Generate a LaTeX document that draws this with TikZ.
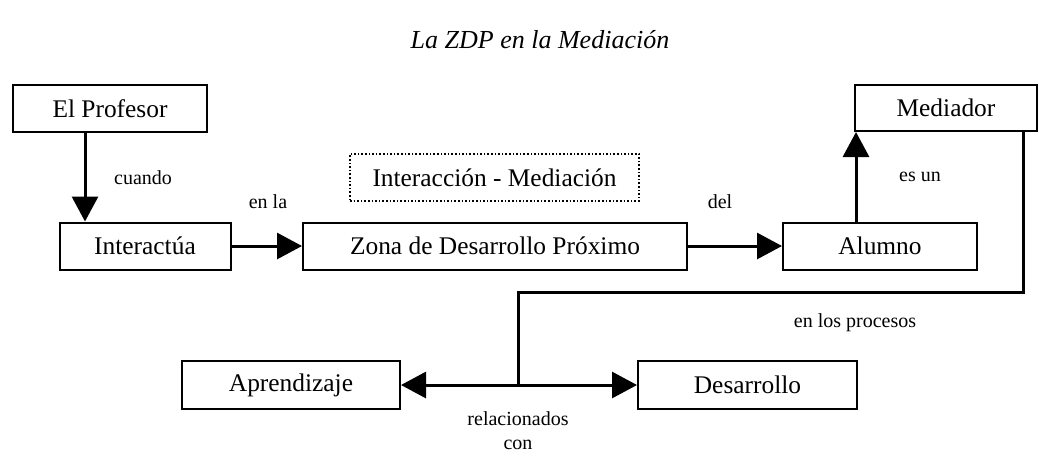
\documentclass[tikz,border=0pt]{standalone}
\usepackage{fontspec}
\setmainfont{Liberation Serif}
\usepackage{tikz}
\usetikzlibrary{arrows.meta, positioning, calc}

\tikzset{
  box/.style={draw, line width=1pt, inner sep=0pt, font=\fontsize{12.7}{15}\selectfont},
  dotbox/.style={draw, densely dotted, line width=0.8pt, inner sep=0pt, font=\fontsize{12.7}{15}\selectfont},
  conn/.style={line width=1.5pt, -{Triangle[length=12.5pt, width=13pt]}},
  lbl/.style={font=\fontsize{10}{12}\selectfont}
}

\begin{document}
\begin{tikzpicture}[x=0.5pt, y=-0.5pt]
  \useasboundingbox (0,0) rectangle (1039,457);

  % Title
  \node[font=\fontsize{13}{15}\selectfont\itshape] (title) at (540,40) {La ZDP en la Mediación};

  % Boxes
  \node[box, minimum width=97pt, minimum height=23.5pt] (prof) at (110,108.5) {El Profesor};
  \node[box, minimum width=91pt, minimum height=23pt] (med) at (946,108) {Mediador};
  \node[dotbox, minimum width=144.5pt, minimum height=23.5pt] (im) at (494.5,177.5) {Interacción - Mediación};
  \node[box, minimum width=85.5pt, minimum height=23.5pt] (inter) at (145,246) {Interactúa};
  \node[box, minimum width=192pt, minimum height=23.5pt] (zona) at (495,246) {Zona de Desarrollo Próximo};
  \node[box, minimum width=97pt, minimum height=23.5pt] (alum) at (880,246) {Alumno};
  \node[box, minimum width=109pt, minimum height=24pt] (apr) at (291,385) {Aprendizaje};
  \node[box, minimum width=109.5pt, minimum height=24pt] (des) at (747.5,385) {Desarrollo};

  % Connectors
  \draw[conn] (prof.south -| 85,0) -- (inter.north -| 85,0);
  \draw[conn] (inter) -- (zona);
  \draw[conn] (zona) -- (alum);
  \draw[conn] (alum.north -| 856,0) -- (med.south -| 856,0);

  \coordinate (junc) at (518,385);
  \draw[line width=1.5pt] (med.south -| 1023,0) -- (1023,292) -- (518,292) -- (junc);
  \draw[conn] (junc) -- (apr);
  \draw[conn] (junc) -- (des);

  % Labels
  \node[lbl] (l1) at (143,178) {cuando};
  \node[lbl] (l2) at (268,202) {en la};
  \node[lbl] (l3) at (720,202) {del};
  \node[lbl] (l4) at (920,177) {es un};
  \node[lbl] (l5) at (855,323) {en los procesos};
  \node[lbl, align=center] (l6) at (518,431) {relacionados\\con};
\end{tikzpicture}
\end{document}
